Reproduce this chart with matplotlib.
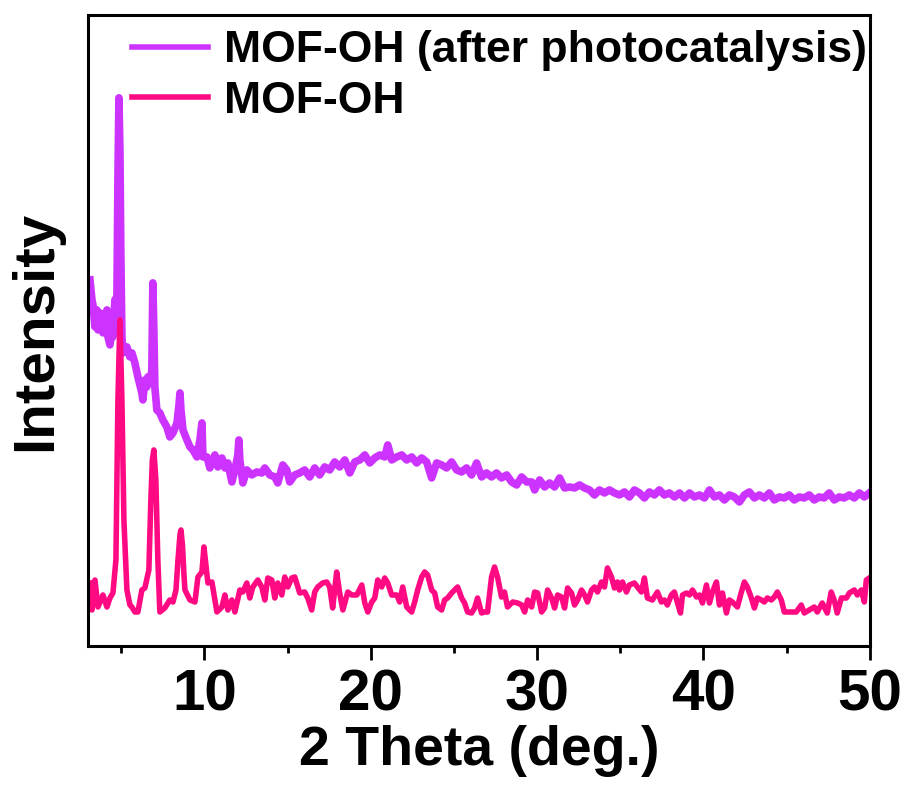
import numpy as np
import matplotlib
matplotlib.use('Agg')
import matplotlib.pyplot as plt

# 2 theta (deg.) and intensity (a.u.)
theta_mof = [3.12, 3.24, 3.42, 3.60, 3.90, 4.14, 4.32, 4.50, 4.68, 4.80, 4.92, 5.04, 5.16, 5.34, 5.52,
             5.64, 5.82, 6.00, 6.24, 6.42, 6.66, 6.78, 6.87, 6.96, 7.08, 7.20, 7.32, 7.62, 7.92, 8.11,
             8.29, 8.41, 8.53, 8.59, 8.68, 8.77, 8.83, 9.13, 9.43, 9.61, 9.85, 9.97, 10.09, 10.21, 10.45,
             10.75, 11.05, 11.23, 11.41, 11.65, 11.83, 12.13, 12.31, 12.55, 12.73, 12.91, 13.21, 13.45, 13.63, 13.81,
             14.05, 14.23, 14.41, 14.65, 14.83, 15.01, 15.25, 15.43, 15.73, 16.03, 16.21, 16.45, 16.63, 16.81, 17.11,
             17.35, 17.53, 17.71, 17.95, 18.13, 18.32, 18.62, 18.86, 19.16, 19.46, 19.64, 19.82, 20.06, 20.24, 20.42,
             20.66, 20.84, 21.02, 21.26, 21.56, 21.74, 21.92, 22.16, 22.46, 22.64, 22.82, 23.06, 23.24, 23.42, 23.66,
             23.84, 24.02, 24.26, 24.44, 24.62, 24.86, 25.04, 25.22, 25.46, 25.64, 25.82, 26.06, 26.24, 26.42, 26.66,
             26.84, 27.02, 27.26, 27.44, 27.62, 27.86, 28.04, 28.22, 28.53, 28.83, 29.07, 29.25, 29.43, 29.67, 29.85,
             30.03, 30.27, 30.45, 30.63, 30.87, 31.05, 31.23, 31.47, 31.65, 31.83, 32.07, 32.25, 32.43, 32.67, 32.85,
             33.03, 33.27, 33.45, 33.63, 33.87, 34.05, 34.23, 34.47, 34.65, 34.83, 34.95, 35.13, 35.37, 35.55, 35.85,
             36.03, 36.27, 36.45, 36.63, 36.93, 37.23, 37.47, 37.65, 37.83, 38.07, 38.25, 38.44, 38.62, 38.74, 38.98,
             39.16, 39.34, 39.58, 39.76, 39.94, 40.18, 40.36, 40.54, 40.78, 40.96, 41.14, 41.38, 41.56, 41.74, 42.04,
             42.28, 42.46, 42.64, 42.88, 43.06, 43.24, 43.48, 43.66, 43.84, 44.08, 44.26, 44.44, 44.68, 44.86, 45.16,
             45.58, 45.88, 46.06, 46.36, 46.66, 46.84, 47.14, 47.44, 47.68, 47.86, 48.04, 48.29, 48.59, 48.77, 49.07,
             49.25, 49.49, 49.67, 49.79, 49.97]
int_mof = [63, 36, 66, 39, 51, 39, 48, 53, 86, 246, 326, 246, 126, 56, 41,
           39, 34, 34, 56, 58, 76, 146, 186, 196, 166, 86, 34, 38, 46, 44,
           56, 86, 111, 116, 101, 71, 56, 46, 44, 69, 74, 99, 81, 63, 64,
           34, 39, 51, 36, 46, 34, 56, 54, 63, 48, 59, 66, 59, 46, 68,
           66, 48, 63, 51, 69, 59, 68, 69, 53, 54, 48, 36, 54, 59, 63,
           64, 59, 38, 74, 53, 36, 54, 51, 51, 61, 43, 34, 44, 48, 66,
           59, 68, 63, 51, 51, 44, 59, 39, 34, 44, 56, 69, 74, 71, 56,
           53, 39, 36, 46, 48, 53, 56, 59, 48, 43, 34, 33, 38, 48, 33,
           34, 34, 69, 79, 69, 49, 54, 39, 44, 43, 41, 34, 46, 39, 54,
           53, 34, 38, 56, 48, 38, 51, 49, 38, 58, 53, 41, 46, 56, 51,
           44, 56, 59, 54, 64, 59, 78, 69, 58, 64, 56, 64, 54, 61, 63,
           59, 54, 68, 48, 46, 54, 44, 46, 41, 51, 54, 43, 33, 51, 53,
           51, 56, 49, 51, 43, 61, 43, 54, 64, 41, 53, 33, 46, 44, 39,
           54, 64, 59, 48, 38, 48, 46, 44, 48, 46, 49, 54, 46, 34, 34,
           34, 41, 33, 36, 39, 34, 43, 33, 54, 46, 33, 48, 48, 53, 56,
           51, 56, 44, 66, 68]

theta_after = [3.12, 3.24, 3.30, 3.42, 3.54, 3.60, 3.72, 3.84, 3.90, 4.02, 4.14, 4.20, 4.32, 4.44, 4.50,
               4.62, 4.74, 4.80, 4.86, 4.92, 4.98, 5.04, 5.10, 5.34, 5.52, 5.64, 5.82, 6.00, 6.24, 6.30,
               6.42, 6.54, 6.60, 6.72, 6.84, 6.90, 6.96, 7.02, 7.14, 7.32, 7.50, 7.74, 7.92, 8.11, 8.35,
               8.47, 8.53, 8.59, 8.71, 8.95, 9.13, 9.31, 9.55, 9.73, 9.85, 9.91, 10.15, 10.33, 10.63, 10.81,
               11.05, 11.23, 11.41, 11.65, 11.83, 12.01, 12.07, 12.13, 12.31, 12.55, 12.85, 13.15, 13.45, 13.63, 13.93,
               14.23, 14.41, 14.71, 14.95, 15.13, 15.43, 15.73, 16.03, 16.33, 16.63, 16.93, 17.23, 17.53, 17.83, 18.13,
               18.44, 18.74, 19.04, 19.34, 19.64, 19.94, 20.24, 20.54, 20.84, 21.02, 21.26, 21.56, 21.86, 22.16, 22.46,
               22.76, 23.06, 23.36, 23.66, 23.96, 24.26, 24.56, 24.86, 25.16, 25.46, 25.76, 26.06, 26.36, 26.66, 26.96,
               27.26, 27.56, 27.86, 28.17, 28.47, 28.77, 29.07, 29.37, 29.67, 29.85, 30.15, 30.45, 30.75, 31.05, 31.35,
               31.65, 31.95, 32.25, 32.55, 32.85, 33.15, 33.45, 33.75, 34.05, 34.35, 34.65, 34.95, 35.25, 35.55, 35.85,
               36.15, 36.45, 36.75, 37.05, 37.35, 37.65, 37.95, 38.26, 38.56, 38.86, 39.16, 39.46, 39.76, 40.06, 40.36,
               40.66, 40.96, 41.26, 41.56, 41.86, 42.16, 42.46, 42.76, 43.06, 43.36, 43.66, 43.96, 44.26, 44.56, 44.86,
               45.16, 45.46, 45.76, 46.06, 46.36, 46.66, 46.96, 47.26, 47.56, 47.86, 48.16, 48.46, 48.77, 49.07, 49.37,
               49.67, 49.97]
int_after = [366, 346, 341, 319, 336, 316, 333, 323, 313, 329, 336, 309, 301, 316, 309,
             346, 349, 466, 548, 496, 386, 309, 293, 299, 289, 293, 283, 269, 253, 246,
             266, 259, 269, 263, 276, 363, 316, 259, 236, 233, 226, 219, 209, 213, 223,
             241, 253, 236, 216, 206, 199, 196, 189, 206, 223, 189, 189, 178, 191, 179,
             188, 178, 183, 164, 176, 191, 206, 186, 163, 176, 171, 174, 173, 178, 171,
             169, 163, 181, 176, 164, 171, 173, 176, 169, 178, 171, 179, 176, 184, 179,
             186, 173, 184, 186, 191, 183, 188, 191, 189, 201, 186, 189, 191, 186, 189,
             183, 188, 184, 168, 183, 181, 178, 184, 176, 174, 178, 171, 183, 169, 173,
             169, 173, 168, 171, 164, 161, 169, 164, 164, 156, 166, 159, 163, 159, 168,
             158, 159, 158, 161, 158, 156, 151, 156, 153, 156, 153, 151, 154, 149, 156,
             153, 148, 154, 151, 156, 151, 153, 149, 153, 148, 153, 149, 151, 148, 156,
             149, 151, 146, 151, 149, 144, 151, 154, 148, 151, 148, 153, 146, 149, 148,
             151, 146, 149, 148, 151, 146, 149, 148, 153, 146, 149, 148, 151, 148, 153,
             149, 153]

labels = ['MOF-OH (after photocatalysis)', 'MOF-OH']
colors = ['#CC33FF', '#FF0A82']

plt.rcParams['font.family'] = ['Liberation Sans', 'DejaVu Sans']
plt.rcParams['font.weight'] = 'bold'

fig = plt.figure(figsize=(9.07, 7.91), dpi=100)
ax = fig.add_axes([0.097, 0.1833, 0.862, 0.798])

ax.plot(theta_after, int_after, color=colors[0], linewidth=5.5, label=labels[0])
ax.plot(theta_mof, int_mof, color=colors[1], linewidth=4, label=labels[1])

ax.set_xlim(3, 50)
ax.set_ylim(0, 631)
ax.set_yticks([])
ax.set_xticks([10, 20, 30, 40, 50])
ax.set_xticks([5, 15, 25, 35, 45], minor=True)
ax.tick_params(axis='x', which='major', direction='out', length=10, width=2, pad=6, labelsize=42)
ax.tick_params(axis='x', which='minor', direction='out', length=5, width=2)
for sp in ax.spines.values():
    sp.set_linewidth(2.2)

ax.set_xlabel('2 Theta (deg.)', fontsize=40, fontweight='bold', labelpad=2)
ax.set_ylabel('Intensity', fontsize=42, fontweight='bold', labelpad=18)

leg = ax.legend(loc='upper right', bbox_to_anchor=(1.03, 1.018), frameon=False, fontsize=32,
                handlelength=1.7, handletextpad=0.35, labelspacing=0.22, borderaxespad=0.2)
for line in leg.get_lines():
    line.set_linewidth(4)

plt.savefig('out.png', dpi=100)
plt.close()
